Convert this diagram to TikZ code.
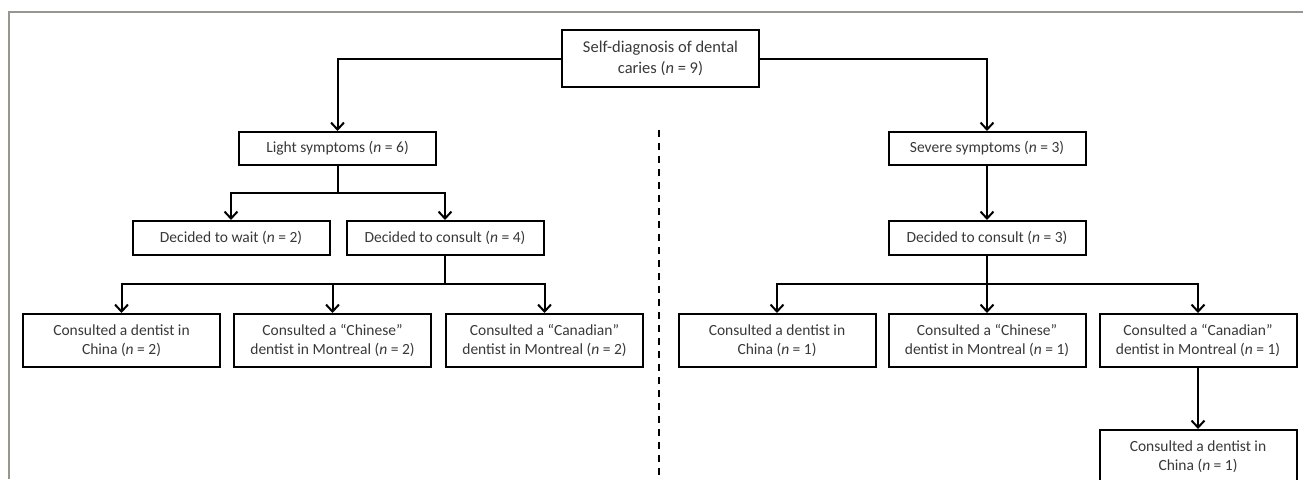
\documentclass[tikz,border=0pt]{standalone}
\usepackage{fontspec}
\setmainfont{Carlito}
\usepackage{tikz}
\usetikzlibrary{arrows.meta}
\usetikzlibrary{positioning}

\begin{document}
\begin{tikzpicture}[x=1pt, y=1pt, align=center, font=\fontsize{15.5}{19}\selectfont]

\tikzstyle{stage} = [rectangle, minimum width=197pt, minimum height=34pt, inner sep=0pt, text centered, draw=black, line width=2pt, text=black!78]
\tikzstyle{outcome} = [stage, minimum height=53pt]
\tikzstyle{arrow} = [line width=2pt, -{Straight Barb[length=7pt,width=13pt,line width=2pt]}]
\tikzstyle{bus} = [line width=2pt]
\tikzstyle{divider} = [line width=2pt, dash pattern=on 7pt off 6pt]
\tikzstyle{frame} = [line width=2.5pt, draw={rgb,255:red,152;green,150;blue,142}]

\useasboundingbox (0,0) rectangle (1303,-479);
\draw [frame] (9,-479) -- (9,-12) -- (1303,-12);

\node (root) [stage, minimum height=57pt, font=\fontsize{16.5}{20.5}\selectfont] at (660.5,-58.5) {Self-diagnosis of dental\\caries (\emph{n} = 9)};
\node (light) [stage, minimum height=33pt, below=43pt of root, xshift=-323pt] {Light symptoms (\emph{n} = 6)};
\node (severe) [stage, minimum height=33pt, below=43pt of root, xshift=326.5pt] {Severe symptoms (\emph{n} = 3)};
\node (waitL) [stage, below=54pt of light, xshift=-106.5pt] {Decided to wait (\emph{n} = 2)};
\node (consultL) [stage, right=15pt of waitL] {Decided to consult (\emph{n} = 4)};
\node (consultR) [stage, below=54pt of severe] {Decided to consult (\emph{n} = 3)};
\node (chineseL) [outcome, below=57pt of consultL, xshift=-112.5pt] {Consulted a ``Chinese''\\dentist in Montreal (\emph{n} = 2)};
\node (chinaL) [outcome, left=12pt of chineseL] {Consulted a dentist in\\China (\emph{n} = 2)};
\node (canadianL) [outcome, right=13pt of chineseL] {Consulted a ``Canadian''\\dentist in Montreal (\emph{n} = 2)};
\node (chineseR) [outcome, below=57pt of consultR] {Consulted a ``Chinese''\\dentist in Montreal (\emph{n} = 1)};
\node (chinaR) [outcome, left=11pt of chineseR] {Consulted a dentist in\\China (\emph{n} = 1)};
\node (canadianR) [outcome, right=12pt of chineseR] {Consulted a ``Canadian''\\dentist in Montreal (\emph{n} = 1)};
\node (laterR) [outcome, minimum height=54pt, below=61pt of canadianR] {Consulted a dentist in\\China (\emph{n} = 1)};

% split points of the branch lines
\path (light.south) ++(0,-27) coordinate (lsplit);
\path (consultL.south) ++(0,-28) coordinate (csplitL);
\path (consultR.south) ++(0,-28) coordinate (csplitR);

\draw [arrow] (root.west) -| (light.north);
\draw [arrow] (root.east) -| (severe.north);
\draw [bus] (light.south) -- (lsplit);
\draw [arrow] (lsplit) -| (waitL.north);
\draw [arrow] (lsplit) -| (consultL.north);
\draw [bus] (consultL.south) -- (csplitL);
\draw [arrow] (csplitL) -| (chinaL.north);
\draw [arrow] (csplitL -| chineseL.north) -- (chineseL.north);
\draw [arrow] (csplitL) -| (canadianL.north);
\draw [arrow] (severe.south) -- (consultR.north);
\draw [arrow] (consultR.south) -- (chineseR.north);
\draw [arrow] (csplitR) -| (chinaR.north);
\draw [arrow] (csplitR) -| (canadianR.north);
\draw [arrow] (canadianR.south) -- (laterR.north);
\draw [divider] (659,-130) -- (659,-479);
\end{tikzpicture}
\end{document}
